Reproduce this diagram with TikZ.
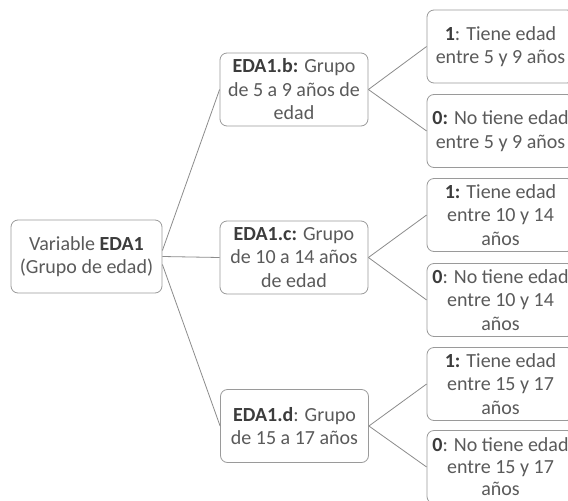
\documentclass[tikz,border=0pt]{standalone}
\usepackage{fontspec}
\setmainfont{Carlito}
\definecolor{boxgray}{HTML}{9A9A9A}
\definecolor{linegray}{HTML}{8C8C8C}
\definecolor{txtgray}{HTML}{5A5A5A}
\definecolor{boldgray}{HTML}{3C3C3C}
\newcommand\boldpart[1]{\textcolor{boldgray}{\textbf{#1}}}
\begin{document}
\begin{tikzpicture}[x=1pt,y=-1pt,
  box/.style={draw=boxgray, line width=0.8pt, rounded corners=7pt,
    minimum width=148pt, minimum height=73pt, align=center,
    text=txtgray, font=\fontsize{20}{23.5}\selectfont, inner sep=0pt},
  leaf/.style={box, minimum width=147pt},
  conn/.style={draw=linegray, line width=0.8pt}]
\useasboundingbox (0,0) rectangle (568,501);
\clip (0,0) rectangle (568,501);
\fill[white] (0,0) rectangle (568,501);
\node[box, minimum width=151pt] (root) at (86.5,256.5) {Variable \boldpart{EDA1}\\(Grupo de edad)};
\node[box] (b) at (294,89.5) {\boldpart{EDA1.b:} Grupo\\de 5 a 9 años de\\edad};
\node[box] (c) at (294,257.5) {\boldpart{EDA1.c:} Grupo\\de 10 a 14 años\\de edad};
\node[box] (d) at (294.5,426) {\boldpart{EDA1.d}: Grupo\\de 15 a 17 años};
\node[leaf] (l1) at (500.5,46.5) {\boldpart{1}: Tiene edad\\entre 5 y 9 años};
\node[leaf] (l2) at (500.5,131) {\boldpart{0:} No tiene edad\\entre 5 y 9 años};
\node[leaf] (l3) at (500.5,215) {\boldpart{1:} Tiene edad\\entre 10 y 14\\años};
\node[leaf] (l4) at (500.5,300) {\boldpart{0}: No tiene edad\\entre 10 y 14\\años};
\node[leaf] (l5) at (500.5,384) {\boldpart{1:} Tiene edad\\entre 15 y 17\\años};
\node[leaf, font=\fontsize{20}{22}\selectfont] (l6) at (500.5,467) {\boldpart{0}: No tiene edad\\entre 15 y 17\\años};
\draw[conn] ([yshift=6pt]root.east) -- (b.west);
\draw[conn] (root.east) -- (c.west);
\draw[conn] ([yshift=-8pt]root.east) -- (d.west);
\draw[conn] (b.east) -- (l1.west);
\draw[conn] (b.east) -- (l2.west);
\draw[conn] (c.east) -- (l3.west);
\draw[conn] (c.east) -- (l4.west);
\draw[conn] (d.east) -- (l5.west);
\draw[conn] (d.east) -- (l6.west);
\end{tikzpicture}
\end{document}
